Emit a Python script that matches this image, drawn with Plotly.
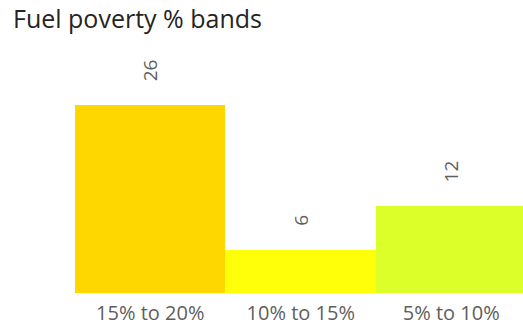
import plotly.graph_objects as go

categories = ["15% to 20%", "10% to 15%", "5% to 10%"]
values = [26, 6, 12]
colors = ["#FFD700", "#FFFF0A", "#DCFF2A"]
title_text = "Fuel poverty % bands"

FONT = "Open Sans, DejaVu Sans, sans-serif"

fig = go.Figure()
fig.add_trace(go.Bar(
    x=categories, y=values,
    marker=dict(color=colors, line=dict(width=0)),
    width=1.0,
    hoverinfo="x+y",
))

for c, v in zip(categories, values):
    fig.add_annotation(
        x=c, y=v, text=str(v), showarrow=False,
        textangle=-90, yanchor="bottom", yshift=22,
        font=dict(family=FONT, size=19, color="#605E5C"),
    )

fig.update_layout(
    width=523, height=327,
    margin=dict(l=75, r=0, t=40, b=34),
    paper_bgcolor="white", plot_bgcolor="white",
    title=dict(
        text=title_text, x=13/523, xref="container", xanchor="left",
        y=1 - 19/327, yref="container", yanchor="middle",
        font=dict(family=FONT, size=25, color="#252423"),
    ),
    bargap=0,
    showlegend=False,
    xaxis=dict(
        range=[-0.5, 2.477], showgrid=False, zeroline=False, showline=False,
        ticks="", tickfont=dict(family=FONT, size=20, color="#605E5C"),
        ticklabelstandoff=6,
    ),
    yaxis=dict(range=[0, 35], visible=False),
)

fig.write_html("out.html")
